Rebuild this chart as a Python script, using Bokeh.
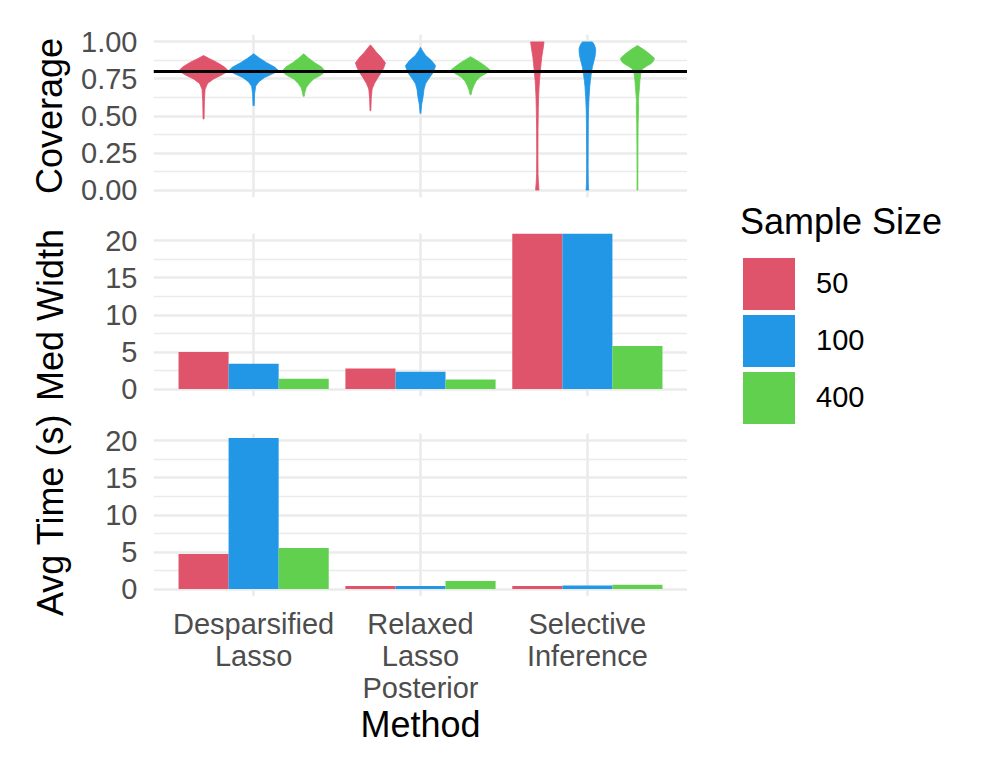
import numpy as np
from bokeh.plotting import figure
from bokeh.models import (ColumnDataSource, Range1d, FixedTicker, Span, Legend,
                          LegendItem, CustomJSTickFormatter)
from bokeh.layouts import column, row
from bokeh.embed import file_html
from bokeh.resources import INLINE

# ---------------- data ----------------
methods = ["Desparsified\nLasso", "Relaxed\nLasso\nPosterior", "Selective\nInference"]
sample_sizes = ["50", "100", "400"]
size_colors = ["#DF536B", "#2297E6", "#61D04F"]

target_coverage = 0.8

med_width_n50 = [5.00, 2.78, 21.0]
med_width_n100 = [3.42, 2.34, 21.0]
med_width_n400 = [1.39, 1.30, 5.81]

avg_time_n50 = [4.72, 0.43, 0.43]
avg_time_n100 = [20.4, 0.43, 0.50]
avg_time_n400 = [5.53, 1.10, 0.57]

cov_ticks = [0, 0.25, 0.5, 0.75, 1.0]
cov_tick_labels = ["0.00", "0.25", "0.50", "0.75", "1.00"]
cov_minor = [0.125, 0.375, 0.625, 0.875]
bar_ticks = [0, 5, 10, 15, 20]
bar_tick_labels = ["0", "5", "10", "15", "20"]
bar_minor = [2.5, 7.5, 12.5, 17.5]

# violin profiles (coverage level, relative density width)
cov_dl_50_y = [0.48, 0.60, 0.68, 0.72, 0.75, 0.78, 0.805, 0.83, 0.86, 0.89, 0.908]
cov_dl_50_d = [0.5, 0.8, 1.5, 4, 10, 19, 24.7, 21, 14, 5, 0]
cov_dl_100_y = [0.57, 0.65, 0.70, 0.73, 0.76, 0.785, 0.805, 0.83, 0.86, 0.89, 0.92]
cov_dl_100_d = [0.6, 1.0, 2, 5, 11, 19, 25, 21, 13, 6, 0]
cov_dl_400_y = [0.633, 0.66, 0.69, 0.72, 0.75, 0.775, 0.80, 0.83, 0.86, 0.89, 0.92]
cov_dl_400_d = [0.5, 1.2, 2.5, 5.5, 10, 17, 21.7, 18, 11, 5, 0]

cov_rl_50_y = [0.536, 0.62, 0.683, 0.72, 0.76, 0.79, 0.82, 0.858, 0.897, 0.93, 0.96, 0.98]
cov_rl_50_d = [0.4, 0.8, 1.7, 4, 7.5, 10.5, 13, 15, 10.7, 6, 2.5, 0]
cov_rl_100_y = [0.518, 0.58, 0.626, 0.68, 0.717, 0.75, 0.784, 0.815, 0.84, 0.874, 0.91, 0.94, 0.964]
cov_rl_100_d = [0.4, 1.2, 2.5, 3.5, 5, 8, 11.7, 14, 15, 11, 5, 2, 0]
cov_rl_400_y = [0.644, 0.675, 0.705, 0.735, 0.761, 0.785, 0.807, 0.83, 0.86, 0.88, 0.90]
cov_rl_400_d = [0.5, 1.5, 3.3, 5.5, 9, 15, 20, 16, 10, 5, 0]

cov_si_50_y = [0.0, 0.02, 0.05, 0.11, 0.25, 0.40, 0.55, 0.626, 0.70, 0.74, 0.80, 0.852, 0.90, 0.95, 1.0]
cov_si_50_d = [1.7, 1.5, 1.1, 0.7, 0.6, 0.7, 1.0, 1.3, 1.8, 2.2, 3.0, 3.7, 4.5, 5.7, 6.7]
cov_si_100_y = [0.0, 0.02, 0.05, 0.15, 0.30, 0.45, 0.55, 0.626, 0.70, 0.739, 0.79, 0.83, 0.87,
                0.897, 0.93, 0.953, 0.98, 1.0]
cov_si_100_d = [1.3, 1.1, 0.9, 0.7, 0.8, 0.9, 1.2, 1.7, 2.4, 3.0, 4.0, 5.0, 6.5, 7.5, 8.2, 8.3, 7.0, 5.0]
cov_si_400_y = [0.0, 0.1, 0.3, 0.45, 0.5, 0.558, 0.60, 0.694, 0.74, 0.784, 0.818, 0.835, 0.852,
                0.87, 0.89, 0.92, 0.95, 0.976]
cov_si_400_d = [0.4, 0.4, 0.5, 0.7, 0.9, 1.2, 0.9, 2.0, 2.5, 3.3, 5, 9, 13.3, 16, 17, 12, 6, 0]

violin_profiles = [
    [(cov_dl_50_y, cov_dl_50_d), (cov_dl_100_y, cov_dl_100_d), (cov_dl_400_y, cov_dl_400_d)],
    [(cov_rl_50_y, cov_rl_50_d), (cov_rl_100_y, cov_rl_100_d), (cov_rl_400_y, cov_rl_400_d)],
    [(cov_si_50_y, cov_si_50_d), (cov_si_100_y, cov_si_100_d), (cov_si_400_y, cov_si_400_d)],
]

# ---------------- styling ----------------
FONT = "Liberation Sans"
TICK_SIZE = "29px"
TITLE_SIZE = "36px"
GRID = "#EBEBEB"
DODGE = 0.3
FRAME_W, FRAME_H = 534, 163


def tick_formatter(tick_vals, tick_labels):
    return CustomJSTickFormatter(
        args=dict(tv=tick_vals, tl=tick_labels),
        code="const i = tv.findIndex(t => Math.abs(t - tick) < 1e-9); return i >= 0 ? tl[i] : '';")


def make_fig(y_range, ticks, labels, minor, title, title_standoff, top, bottom, show_x=False):
    p = figure(frame_width=FRAME_W, frame_height=FRAME_H,
               x_range=Range1d(0.4, 3.6), y_range=y_range,
               output_backend="svg", toolbar_location=None,
               x_axis_location="below" if show_x else None,
               min_border_left=153, min_border_right=0,
               min_border_top=top, min_border_bottom=bottom)
    p.outline_line_color = None
    p.background_fill_color = "white"
    p.border_fill_color = "white"

    yax = p.yaxis[0]
    yax.ticker = FixedTicker(ticks=ticks, minor_ticks=minor)
    yax.formatter = tick_formatter(ticks, labels)
    yax.axis_label = title
    yax.axis_label_text_font = FONT
    yax.axis_label_text_font_size = TITLE_SIZE
    yax.axis_label_text_font_style = "normal"
    yax.axis_label_text_color = "black"
    yax.axis_label_standoff = title_standoff
    yax.major_label_text_font = FONT
    yax.major_label_text_font_size = TICK_SIZE
    yax.major_label_text_color = "#4D4D4D"
    yax.major_label_standoff = 16
    yax.major_tick_out = 0
    yax.major_tick_in = 0
    yax.minor_tick_out = 0
    yax.major_tick_line_color = None
    yax.minor_tick_line_color = None
    yax.axis_line_color = None

    p.ygrid.ticker = FixedTicker(ticks=ticks, minor_ticks=minor)
    p.ygrid.grid_line_color = GRID
    p.ygrid.grid_line_width = 2.6
    p.ygrid.minor_grid_line_color = GRID
    p.ygrid.minor_grid_line_width = 1.3
    p.xgrid.ticker = FixedTicker(ticks=[1, 2, 3])
    p.xgrid.grid_line_color = GRID
    p.xgrid.grid_line_width = 2.6

    if show_x:
        xax = p.xaxis[0]
        xax.ticker = FixedTicker(ticks=[1, 2, 3])
        xax.formatter = tick_formatter([1, 2, 3], methods)
        xax.axis_label = "Method"
        xax.axis_label_text_font = FONT
        xax.axis_label_text_font_size = TITLE_SIZE
        xax.axis_label_text_font_style = "normal"
        xax.axis_label_text_color = "black"
        xax.axis_label_standoff = -3
        xax.major_label_text_font = FONT
        xax.major_label_text_font_size = TICK_SIZE
        xax.major_label_text_color = "#4D4D4D"
        xax.major_label_text_line_height = 1.0
        xax.major_label_standoff = 11
        xax.major_tick_out = 0
        xax.major_tick_in = 0
        xax.minor_tick_out = 0
        xax.major_tick_line_color = None
        xax.minor_tick_line_color = None
        xax.axis_line_color = None
    return p


# ---------------- coverage (violins) ----------------
p1 = make_fig(Range1d(-0.05, 1.05), cov_ticks, cov_tick_labels, cov_minor,
              "Coverage", 8, 34, 18)
dmax = max(max(d) for grp in violin_profiles for (_, d) in grp)
for mi, grp in enumerate(violin_profiles):
    for si, (yv, dv) in enumerate(grp):
        cx = mi + 1 + (si - 1) * DODGE
        half = [d / dmax * (DODGE / 2) for d in dv]
        xs = [cx + h for h in half] + [cx - h for h in half[::-1]]
        ys = list(yv) + list(yv)[::-1]
        p1.patch(xs, ys, fill_color=size_colors[si], line_color=size_colors[si],
                 line_width=0.8)
p1.add_layout(Span(location=target_coverage, dimension="width",
                   line_color="black", line_width=3))

# ---------------- median width (bars) ----------------
p2 = make_fig(Range1d(-1, 21), bar_ticks, bar_tick_labels, bar_minor,
              "Med Width", 31, 18, 18)
width_series = [med_width_n50, med_width_n100, med_width_n400]
for si, vals in enumerate(width_series):
    src = ColumnDataSource(dict(x=[i + 1 + (si - 1) * DODGE for i in range(len(methods))],
                                top=vals))
    p2.vbar(x="x", top="top", bottom=0, width=DODGE, source=src,
            fill_color=size_colors[si], line_color=None)

# ---------------- average time (bars) ----------------
p3 = make_fig(Range1d(-1, 21), bar_ticks, bar_tick_labels, bar_minor,
              "Avg Time (s)", 31, 19, 170, show_x=True)
time_series = [avg_time_n50, avg_time_n100, avg_time_n400]
for si, vals in enumerate(time_series):
    src = ColumnDataSource(dict(x=[i + 1 + (si - 1) * DODGE for i in range(len(methods))],
                                top=vals))
    p3.vbar(x="x", top="top", bottom=0, width=DODGE, source=src,
            fill_color=size_colors[si], line_color=None)

# ---------------- legend (separate blank panel) ----------------
LEG_H = 34 + 163 + 18 + 18 + 163 + 18 + 19 + 163 + 170
pl = figure(frame_width=300, frame_height=LEG_H, x_range=Range1d(0, 1), y_range=Range1d(0, 1),
            x_axis_location=None, y_axis_location=None, output_backend="svg",
            toolbar_location=None, min_border=0)
pl.grid.visible = False
pl.outline_line_color = None
# key swatches: glyphs with NaN data (not drawn), only their legend samples show
nan = float("nan")
legend_renderers = [pl.vbar(x=[nan], top=[nan], bottom=[nan], width=0.1, fill_color=c,
                            line_color=c, line_width=6.4, line_join="miter")
                    for c in size_colors]
legend = Legend(items=[LegendItem(label=s, renderers=[r])
                       for s, r in zip(sample_sizes, legend_renderers)],
                location=(53, LEG_H - 426), title="Sample Size",
                glyph_width=57, glyph_height=57, spacing=0, padding=0, margin=0,
                label_standoff=19, title_standoff=12,
                title_text_font=FONT, title_text_font_size=TITLE_SIZE,
                title_text_font_style="normal", title_text_color="black",
                label_text_font=FONT, label_text_font_size=TICK_SIZE, label_text_color="black",
                border_line_color=None, background_fill_alpha=0)
pl.add_layout(legend, "center")

layout = row(column(p1, p2, p3), pl)
open("out.html", "w").write(file_html(layout, INLINE))
